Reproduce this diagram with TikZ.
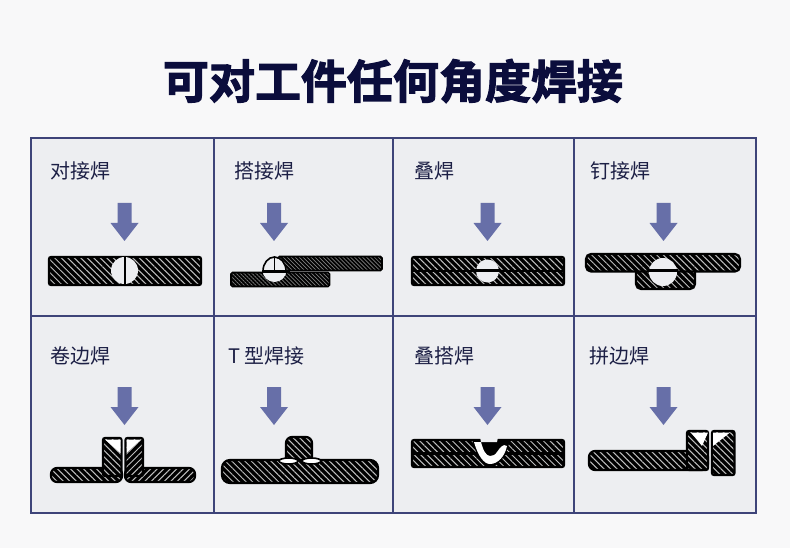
\documentclass[tikz,border=0pt]{standalone}
\usepackage{fontspec}
\usepackage{tikz}
\usetikzlibrary{patterns.meta}
\newfontfamily\cjk{Noto Sans CJK SC}
\newfontfamily\cjktitle[FakeBold=2.4]{Noto Sans CJK SC Bold}
\definecolor{pagebg}{HTML}{F8F8F9}
\definecolor{panelbg}{HTML}{EDEEF1}
\definecolor{gridnavy}{HTML}{3E4479}
\definecolor{arrowblue}{HTML}{676FA8}
\definecolor{titlenavy}{HTML}{0B0D3C}
\definecolor{labelnavy}{HTML}{1C1F45}
\definecolor{hatchgrey}{HTML}{BEBEBE}
\newcommand{\weldarrow}[2]{
    \fill [arrowblue] (#1-7,#2) -- (#1+7,#2) -- (#1+7,#2+20) -- (#1+14,#2+20) -- (#1,#2+38) -- (#1-14,#2+20) -- (#1-7,#2+20) -- cycle;
}
\begin{document}
\begin{tikzpicture}[x=1pt, y=-1pt,
    weldlabel/.style={right, inner sep=0pt, text=labelnavy, font=\cjk\fontsize{20}{20}\selectfont},
    hatchbar/.style={draw=black, line width=2.2pt, rounded corners=2pt, preaction={fill=black}, pattern={Lines[angle=-45,distance=4.6pt,line width=1pt]}, pattern color=hatchgrey},
    hatchflip/.style={draw=black, line width=2.2pt, rounded corners=2pt, preaction={fill=black}, pattern={Lines[angle=45,distance=4.6pt,line width=1pt]}, pattern color=hatchgrey},
    finebar/.style={draw=black, line width=1.6pt, rounded corners=1.5pt, preaction={fill=black}, pattern={Lines[angle=-45,distance=2.8pt,line width=0.7pt]}, pattern color=gray},
    weldspot/.style={fill=panelbg, draw=none},
    seam/.style={black, line width=2.4pt}]
    \useasboundingbox (0,0) rectangle (790,548);
    \fill [pagebg] (0,0) rectangle (790,548);
    \fill [panelbg] (31,138) rectangle (756,513);
    \draw [gridnavy, line width=1.5pt] (31,138) rectangle (756,513);
    \draw [gridnavy, line width=1.5pt] (214,138) -- (214,513);
    \draw [gridnavy, line width=1.5pt] (393,138) -- (393,513);
    \draw [gridnavy, line width=1.5pt] (574,138) -- (574,513);
    \draw [gridnavy, line width=1.5pt] (31,316) -- (756,316);
    \node (title) [text=titlenavy, font=\cjktitle\fontsize{46}{46}\selectfont] at (393,81) {可对工件任何角度焊接};
    \node (buttlabel) [weldlabel] at (50,171) {对接焊};
    \node (laplabel) [weldlabel] at (234,171) {搭接焊};
    \node (stacklabel) [weldlabel] at (414,171) {叠焊};
    \node (naillabel) [weldlabel] at (590,171) {钉接焊};
    \node (flangelabel) [weldlabel] at (50,356) {卷边焊};
    \node (teelabel) [weldlabel] at (228,356) {T 型焊接};
    \node (steplabel) [weldlabel] at (414,356) {叠搭焊};
    \node (edgelabel) [weldlabel] at (589,356) {拼边焊};
    \weldarrow{124.5}{203}
    \weldarrow{274}{203}
    \weldarrow{487.5}{203}
    \weldarrow{663.5}{203}
    \weldarrow{124.5}{387}
    \weldarrow{274}{387}
    \weldarrow{487.5}{387}
    \weldarrow{663.5}{387}
    \draw [hatchbar] (49,257) rectangle (201,285);
    \fill [weldspot] (124.5,270.5) circle (13.5pt);
    \draw [seam] (125,257) -- (125,285);
    \draw [finebar] (278,256.5) rectangle (382,270.5);
    \draw [finebar] (231,272.5) rectangle (329.5,286.5);
    \fill [weldspot] (274.5,270) circle (12pt);
    \draw [black, line width=1.6pt] (263,271) arc (180:360:11.5pt and -14pt);
    \draw [seam] (262,271.5) -- (290,271.5);
    \draw [black, line width=1.8pt] (274.5,257) -- (274.5,271);
    \draw [hatchbar] (412,257) rectangle (564,285);
    \draw [seam] (412,271) -- (564,271);
    \fill [weldspot] (487.5,271) circle (11.5pt);
    \draw [seam] (475,270.5) -- (500,270.5);
    \draw [hatchbar, rounded corners=5pt] (636,265) rectangle (695,289);
    \draw [hatchbar, rounded corners=5pt] (586,254) rectangle (740,271.5);
    \fill [weldspot] (663,272) circle (14pt);
    \draw [seam] (648,270.5) -- (678,270.5);
    \draw [hatchbar, rounded corners=6pt] (51,468) rectangle (122,482);
    \draw [hatchflip, rounded corners=6pt] (125,468) rectangle (195,482);
    \draw [hatchbar] (103,438) rectangle (121.5,476);
    \draw [hatchflip] (125.5,438) rectangle (143,476);
    \fill [white] (105,439.5) -- (120.5,439.5) -- (120.5,453) -- cycle;
    \fill [white] (126.5,439.5) -- (141,439.5) -- (126.5,453) -- cycle;
    \draw [hatchbar, rounded corners=6pt] (286,437) rectangle (312,466);
    \draw [hatchbar, rounded corners=8pt] (222,460) rectangle (378,483);
    \draw [black, fill=white, line width=1.6pt] (288.5,461) ellipse (9.5pt and 3pt);
    \draw [black, fill=white, line width=1.6pt] (311.5,461) ellipse (9.5pt and 3pt);
    \draw [hatchbar] (412,440) rectangle (564,467);
    \draw [seam] (412,453.5) -- (564,453.5);
    \fill [black] (472,439) .. controls (477,458) and (482,466.5) .. (490,466.5) .. controls (498,466.5) and (507,456) .. (510,439) -- cycle;
    \fill [white] (474,442) .. controls (478,456) and (484,464) .. (490,464) .. controls (498,464) and (505,456) .. (507,446) .. controls (503,443) and (500,448) .. (497,452) .. controls (495,455) and (493,456) .. (490,456) .. controls (486,456) and (483,450) .. (481,442) -- cycle;
    \fill [panelbg] (480,437) -- (498,437) -- (497,442) -- (481,442) -- cycle;
    \draw [hatchbar, rounded corners=6pt] (589,451) rectangle (708,470);
    \draw [hatchbar] (687,431) rectangle (708,470);
    \draw [hatchbar] (712,431) rectangle (734.5,475);
    \fill [white] (691,432.5) -- (708,432.5) -- (702,446) -- cycle;
    \fill [white] (713,432.5) -- (730,432.5) -- (713,446) -- cycle;
\end{tikzpicture}
\end{document}
